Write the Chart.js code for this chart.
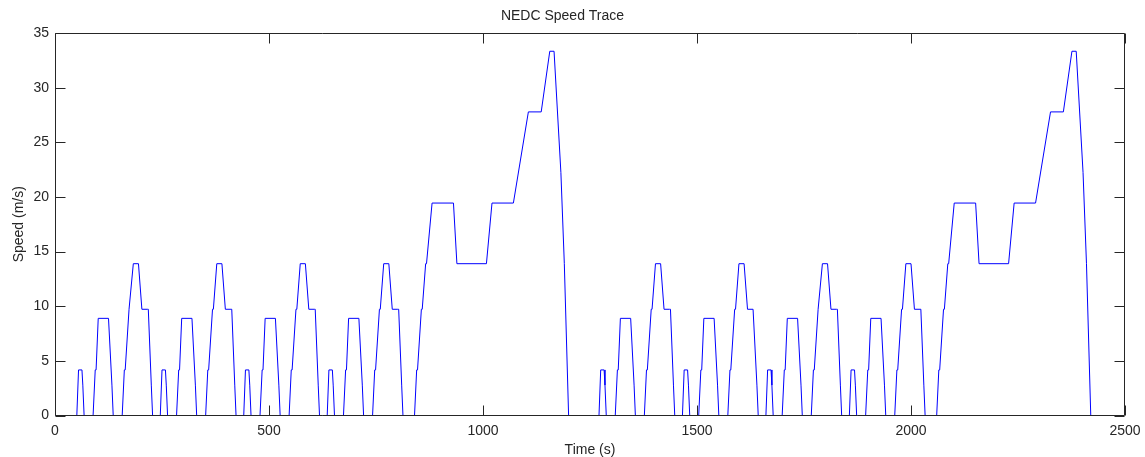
<!DOCTYPE html>
<html>
<head>
<meta charset="utf-8">
<title>NEDC Speed Trace</title>
<script src="https://cdn.jsdelivr.net/npm/chart.js@4.4.1/dist/chart.umd.min.js"></script>
<style>
  html, body { margin: 0; padding: 0; background: #fff; }
  #wrap { width: 1145px; height: 457px; }
</style>
</head>
<body>
<div id="wrap"><canvas id="speedChart" width="1145" height="457"></canvas></div>
<script>
// speed (m/s) at the breakpoints of one urban block (ECE-15) and of the extra-urban block
const urbanSpeed = [0, 0, 4.17, 4.17, 2.78, 0, 0, 4.17, 4.17, 8.89, 8.89, 2.78, 0,
  0, 4.17, 4.17, 9.72, 9.72, 13.89, 13.89, 9.72, 9.72, 9.72, 2.78, 0];
const extraUrbanSpeed = [0, 0, 4.17, 4.17, 9.72, 9.72, 13.89, 13.89, 19.44, 19.44, 13.89,
  13.89, 19.44, 19.44, 27.78, 27.78, 33.33, 33.33, 22.22, 13.89, 0, 0];

// times (s) of those breakpoints
const urbanTimes = [
  [40, 51, 55, 63, 65, 68, 89, 94, 96, 101, 125, 133, 136, 157, 162, 164, 173, 175, 183, 195, 203, 216, 218, 225, 228],
  [235, 246, 250, 258, 260, 263, 284, 289, 291, 296, 320, 328, 331, 352, 357, 359, 368, 370, 378, 390, 398, 411, 413, 420, 423],
  [430, 441, 445, 453, 455, 458, 479, 484, 486, 491, 515, 523, 526, 547, 552, 554, 563, 565, 573, 585, 593, 606, 608, 615, 618],
  [625, 636, 640, 648, 650, 653, 674, 679, 681, 686, 710, 718, 721, 742, 747, 749, 758, 760, 768, 780, 788, 801, 803, 810, 813],
  [1260, 1271, 1275, 1283, 1285, 1288, 1309, 1314, 1316, 1321, 1345, 1353, 1356, 1377, 1382, 1384, 1393, 1395, 1403, 1415, 1423, 1436, 1438, 1445, 1448],
  [1455, 1466, 1470, 1478, 1480, 1483, 1504, 1509, 1511, 1516, 1540, 1548, 1551, 1572, 1577, 1579, 1588, 1590, 1598, 1610, 1618, 1631, 1633, 1640, 1643],
  [1650, 1661, 1665, 1673, 1675, 1678, 1699, 1704, 1706, 1711, 1735, 1743, 1746, 1767, 1772, 1774, 1783, 1785, 1793, 1805, 1813, 1826, 1828, 1835, 1838],
  [1845, 1856, 1860, 1868, 1870, 1873, 1894, 1899, 1901, 1906, 1930, 1938, 1941, 1962, 1967, 1969, 1978, 1980, 1988, 2000, 2008, 2021, 2023, 2030, 2033]
];
const extraUrbanTimes = [
  [820, 840, 845, 847, 856, 858, 866, 868, 881, 931, 939, 1008, 1021, 1071, 1106, 1136, 1156, 1166, 1182, 1190, 1200, 1220],
  [2040, 2060, 2065, 2067, 2076, 2078, 2086, 2088, 2101, 2151, 2159, 2228, 2241, 2291, 2326, 2356, 2376, 2386, 2402, 2410, 2420, 2440]
];

const xTicks = [0, 500, 1000, 1500, 2000, 2500];
const yTicks = [0, 5, 10, 15, 20, 25, 30, 35];

// stitch the blocks together: 4 urban + 1 extra-urban, twice
const points = [{ x: 0, y: 0 }];
for (let c = 0; c < 2; c++) {
  for (let u = 0; u < 4; u++) {
    urbanTimes[c * 4 + u].forEach((t, i) => points.push({ x: t, y: urbanSpeed[i] }));
  }
  extraUrbanTimes[c].forEach((t, i) => points.push({ x: t, y: extraUrbanSpeed[i] }));
}

const FONT = '"Liberation Sans", Arial, Helvetica, sans-serif';
const INK = '#262626';

// matlab style box with inward ticks, drawn over the data
const boxPlugin = {
  id: 'boxAxes',
  afterDatasetsDraw(chart) {
    const { ctx, chartArea: a, scales } = chart;
    const L = a.left + 0.5, R = a.right - 0.5, T = a.top + 0.5, B = a.bottom;
    ctx.save();
    ctx.strokeStyle = INK;
    ctx.lineWidth = 1;
    ctx.beginPath();
    ctx.rect(L, T, R - L, B - T);
    xTicks.forEach(v => {
      const px = Math.round(scales.x.getPixelForValue(v)) + 0.5;
      ctx.moveTo(px, B); ctx.lineTo(px, B - 10);
      ctx.moveTo(px, T); ctx.lineTo(px, T + 10);
    });
    yTicks.forEach(v => {
      const py = Math.round(scales.y.getPixelForValue(v)) + 0.5;
      ctx.moveTo(L, py); ctx.lineTo(L + 10, py);
      ctx.moveTo(R, py); ctx.lineTo(R - 10, py);
    });
    ctx.stroke();
    ctx.restore();
  }
};

const plain = v => String(v);

new Chart(document.getElementById('speedChart'), {
  type: 'line',
  data: {
    datasets: [{
      data: points,
      borderColor: '#0000ff',
      borderWidth: 1,
      pointRadius: 0,
      tension: 0,
      fill: false
    }]
  },
  options: {
    responsive: false,
    animation: false,
    events: [],
    layout: { padding: { left: 0, right: 20, top: 0, bottom: 0 } },
    plugins: {
      legend: { display: false },
      tooltip: { enabled: false },
      title: {
        display: true,
        text: 'NEDC Speed Trace',
        color: INK,
        font: { family: FONT, size: 14, weight: 'normal' },
        padding: { top: 7.6, bottom: 8.6 }
      }
    },
    scales: {
      x: {
        type: 'linear',
        min: 0,
        max: 2500,
        afterFit: s => { s.height = 41.5; s.paddingLeft = 0; s.paddingRight = 0; },
        afterBuildTicks: s => { s.ticks = xTicks.map(v => ({ value: v })); },
        grid: { display: false, drawTicks: false, tickLength: 0 },
        border: { display: false },
        ticks: { color: INK, font: { family: FONT, size: 14 }, padding: 7, maxRotation: 0, callback: plain },
        title: { display: true, text: 'Time (s)', color: INK, font: { family: FONT, size: 14 }, padding: { top: 0, bottom: -2 } }
      },
      y: {
        min: 0,
        max: 35,
        afterFit: s => { s.width = 55; s.paddingTop = 0; s.paddingBottom = 0; },
        afterBuildTicks: s => { s.ticks = yTicks.map(v => ({ value: v })); },
        grid: { display: false, drawTicks: false, tickLength: 0 },
        border: { display: false },
        ticks: { color: INK, font: { family: FONT, size: 14 }, padding: 6, callback: plain },
        title: { display: true, text: 'Speed (m/s)', color: INK, font: { family: FONT, size: 14 }, padding: { top: 11, bottom: 0 } }
      }
    }
  },
  plugins: [boxPlugin]
});
</script>
</body>
</html>
